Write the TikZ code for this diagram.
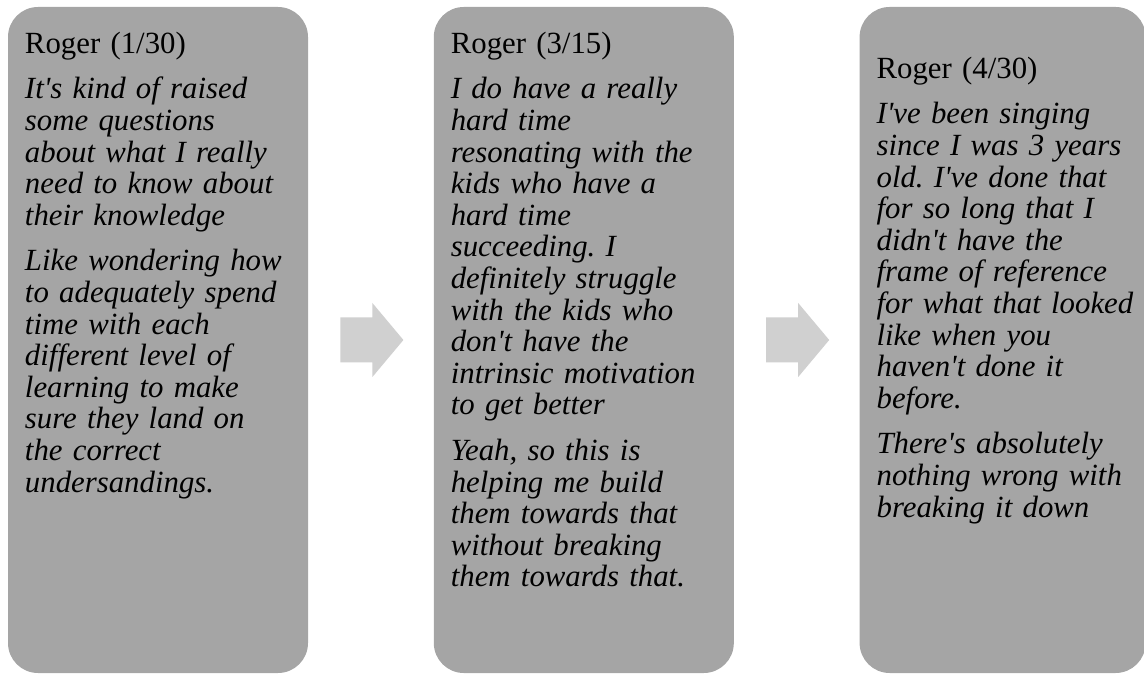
\documentclass[tikz,border=0pt]{standalone}
\usepackage{fontspec}
\setmainfont{Liberation Serif}[Ligatures=TeXOff]
\usepackage{tikz}
\usetikzlibrary{positioning}
\definecolor{cbox}{HTML}{A5A5A5}
\definecolor{carrow}{HTML}{D0D0D0}
\newcommand{\qfont}{\fontsize{15.4pt}{15.8pt}\selectfont\frenchspacing\setlength{\parskip}{7pt}}

\begin{document}
\begin{tikzpicture}[node distance=62.5pt,
  box/.style={rectangle,rounded corners=15pt,fill=cbox,inner sep=0pt,
              minimum height=333pt,minimum width=150pt},
  txt/.style={anchor=north west,inner sep=0pt,text width=138pt,align=left,font=\qfont},
  blk/.pic={\fill[carrow] (0,-11.25pt) -- ++(16pt,0) -- ++(0,-7.25pt) -- ++(15.5pt,18.5pt)
            -- ++(-15.5pt,18.5pt) -- ++(0,-7.25pt) -- ++(-16pt,0) -- cycle;}]
\useasboundingbox (0,0) rectangle (572pt,337.5pt);
\node[box] (r1) at (79pt,167.5pt) {};
\node[box,right=of r1] (r2) {};
\node[box,minimum width=143pt,right=of r2] (r3) {};
\coordinate[right=16pt of r1] (a1);
\coordinate[right=16pt of r2] (a2);
\pic at (a1) {blk};
\pic at (a2) {blk};
\node[txt] (q1) at ([xshift=8.5pt,yshift=-12.5pt]r1.north west)
  {Roger (1/30)\par\itshape
   It's kind of raised\\ some questions\\ about what I really\\ need to know about\\ their knowledge\par
   Like wondering how\\ to adequately spend\\ time with each\\ different level of\\ learning to make\\
   sure they land on\\ the correct\\ undersandings.};
\node[txt] (q2) at ([xshift=8.5pt,yshift=-12.5pt]r2.north west)
  {Roger (3/15)\par\itshape
   I do have a really\\ hard time\\ resonating with the\\ kids who have a\\ hard time\\ succeeding. I\\
   definitely struggle\\ with the kids who\\ don't have the\\ intrinsic motivation\\ to get better\par
   Yeah, so this is\\ helping me build\\ them towards that\\ without breaking\\ them towards that.};
\node[txt] (q3) at ([xshift=8.5pt,yshift=-25pt]r3.north west)
  {Roger (4/30)\par\itshape
   I've been singing\\ since I was 3 years\\ old. I've done that\\ for so long that I\\ didn't have the\\
   frame of reference\\ for what that looked\\ like when you\\ haven't done it\\ before.\par
   There's absolutely\\ nothing wrong with\\ breaking it down};
\end{tikzpicture}
\end{document}
